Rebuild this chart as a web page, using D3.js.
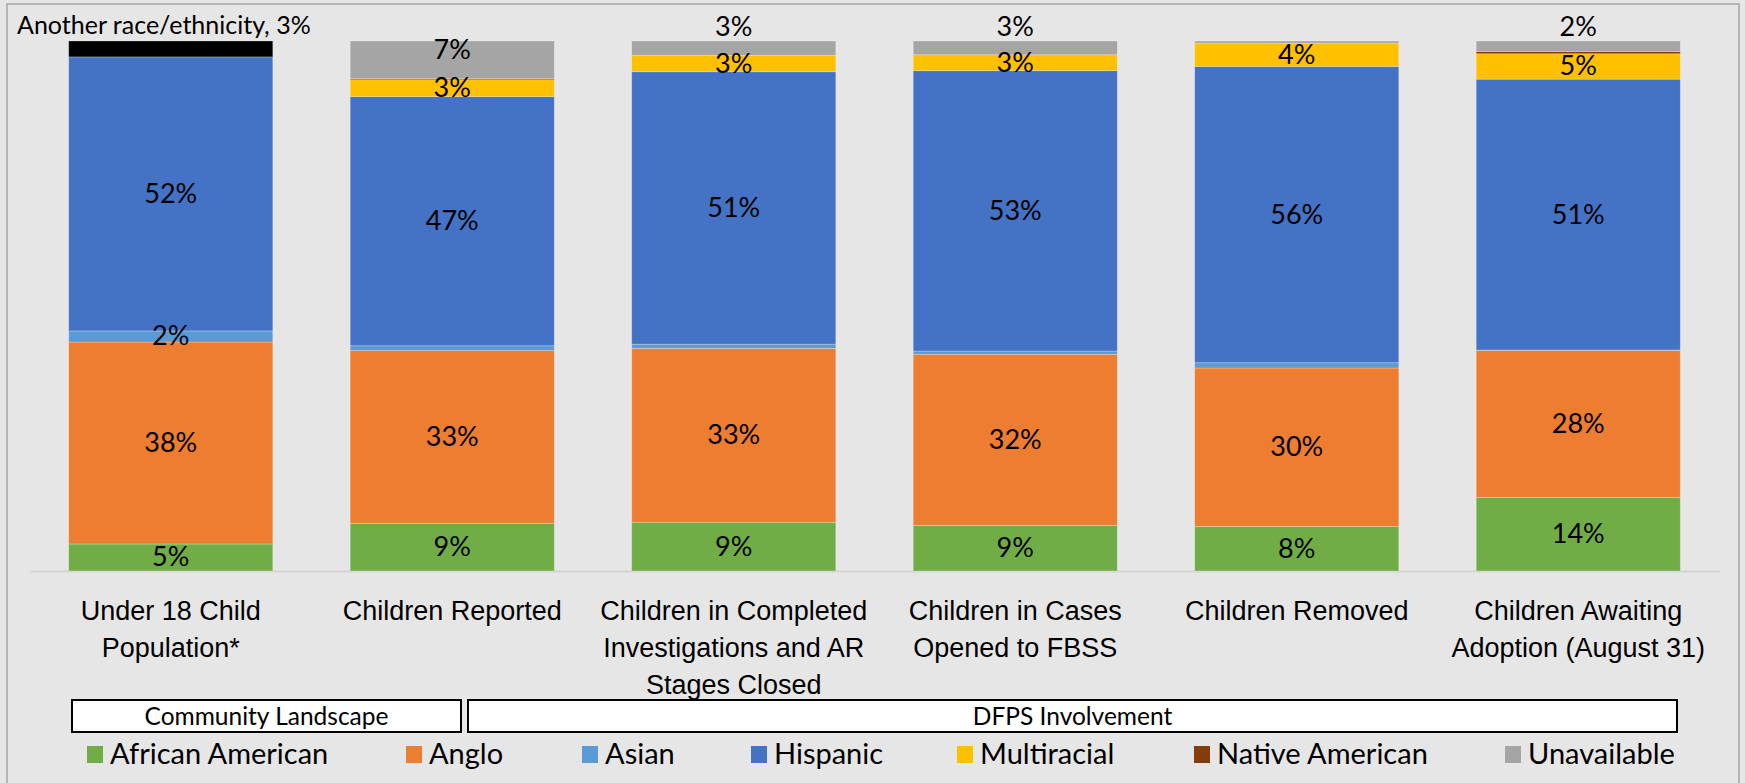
<!DOCTYPE html>
<html>
<head>
<meta charset="utf-8">
<script src="https://cdn.jsdelivr.net/npm/d3@7"></script>
<style>
  body { margin: 0; background: #e7e6e6; }
  svg { display: block; font-family: Lato, "Open Sans", sans-serif; }
  .axis .domain { stroke: #d4d4d4; stroke-width: 2; }
  .axis text { font-size: 27px; fill: #000; }
  .seg-label { font-size: 27px; fill: #000; text-anchor: middle; }
  .legend text { font-size: 29px; fill: #000; }
  .group-box text { font-size: 24.5px; fill: #000; text-anchor: middle; }
</style>
</head>
<body>
<svg width="1745" height="783"></svg>
<script>
// categories and tick labels
var categories = ['Under 18 Child Population*', 'Children Reported',
    'Children in Completed Investigations and AR Stages Closed',
    'Children in Cases Opened to FBSS', 'Children Removed',
    'Children Awaiting Adoption (August 31)'];
var tickLines = [
    ['Under 18 Child', 'Population*'],
    ['Children Reported'],
    ['Children in Completed', 'Investigations and AR', 'Stages Closed'],
    ['Children in Cases', 'Opened to FBSS'],
    ['Children Removed'],
    ['Children Awaiting', 'Adoption (August 31)']
];

// percent of children per race/ethnicity
var africanAmerican = [5.1, 9.0, 9.2, 8.6, 8.4, 13.9];
var anglo           = [38.1, 32.6, 32.8, 32.3, 29.9, 27.7];
var asian           = [2.1, 0.9, 0.8, 0.6, 1.0, 0.1];
var hispanic        = [51.7, 47.0, 51.4, 52.9, 55.9, 51.1];
var multiracial     = [0, 3.2, 3.1, 3.0, 4.4, 4.8];
var nativeAmerican  = [0, 0.2, 0, 0, 0, 0.4];
var unavailable     = [0, 7.1, 2.7, 2.6, 0.4, 2.0];
var anotherRace     = [3.0, 0, 0, 0, 0, 0];

var legendKeys = ['African American', 'Anglo', 'Asian', 'Hispanic',
    'Multiracial', 'Native American', 'Unavailable'];
var groups = ['Community Landscape', 'DFPS Involvement'];

var svg = d3.select('svg');
var width = +svg.attr('width');
var height = +svg.attr('height');

var keys = legendKeys.concat(['Another race/ethnicity']);
var colors = d3.scaleOrdinal()
    .domain(keys)
    .range(['#70ad47', '#ed7d31', '#5b9bd5', '#4472c4', '#ffc000', '#843c0c', '#a5a5a5', '#000000']);

var rows = categories.map(function(c, i) {
    return {
        category: c,
        'African American': africanAmerican[i],
        'Anglo': anglo[i],
        'Asian': asian[i],
        'Hispanic': hispanic[i],
        'Multiracial': multiracial[i],
        'Native American': nativeAmerican[i],
        'Unavailable': unavailable[i],
        'Another race/ethnicity': anotherRace[i]
    };
});

var series = d3.stack().keys(keys)(rows);

// chart frame
svg.append('rect')
    .attr('width', width).attr('height', height)
    .attr('fill', '#e7e6e6');
svg.append('rect')
    .attr('x', 7).attr('y', 4)
    .attr('width', 1732).attr('height', 790)
    .attr('fill', 'none')
    .attr('stroke', '#b5b5b5')
    .attr('stroke-width', 2);

var x = d3.scaleBand()
    .domain(categories)
    .range([30, 1719])
    .paddingInner(0.275)
    .paddingOuter(0.1375);

var y = d3.scaleLinear()
    .domain([0, 100])
    .range([571, 41]);

// baseline axis with wrapped labels
var axisG = svg.append('g')
    .attr('class', 'axis')
    .attr('transform', 'translate(0,' + y(0) + ')')
    .call(d3.axisBottom(x).tickSize(0).tickSizeOuter(0).tickFormat(''));

axisG.selectAll('.tick').each(function(d, i) {
    var t = d3.select(this).append('text')
        .attr('text-anchor', 'middle')
        .attr('y', 49);
    tickLines[i].forEach(function(line, j) {
        t.append('tspan')
            .attr('x', 0)
            .attr('dy', j === 0 ? 0 : 37)
            .text(line);
    });
});

// stacked bars
var layer = svg.append('g').selectAll('g')
    .data(series)
    .enter()
    .append('g')
    .attr('fill', function(d) { return colors(d.key); });

layer.selectAll('rect')
    .data(function(d) { return d; })
    .enter()
    .append('rect')
    .attr('x', function(d) { return x(d.data.category); })
    .attr('width', x.bandwidth())
    .attr('y', function(d) { return y(d[1]); })
    .attr('height', function(d) { return y(d[0]) - y(d[1]); })
    .attr('stroke', 'rgba(255,255,255,0.3)')
    .attr('stroke-width', 0.8);

// data labels
var labels = [];
series.forEach(function(s) {
    if (s.key === 'Another race/ethnicity' || s.key === 'Native American') return;
    s.forEach(function(d) {
        var v = d[1] - d[0];
        if (v < 1.5) return;
        var cy = (y(d[0]) + y(d[1])) / 2 + 9;
        if (s.key === 'Unavailable') {
            // small ones sit above the bar, big ones near the top of their segment
            cy = v < 4 ? y(d[1]) - 5 : y(d[1]) + 18;
        }
        labels.push({ x: x(d.data.category) + x.bandwidth() / 2, y: cy, text: Math.round(v) + '%' });
    });
});

svg.append('g').selectAll('text')
    .data(labels)
    .enter()
    .append('text')
    .attr('class', 'seg-label')
    .attr('x', function(d) { return d.x; })
    .attr('y', function(d) { return d.y; })
    .text(function(d) { return d.text; });

svg.append('text')
    .attr('x', 17)
    .attr('y', 34)
    .style('font-size', '25px')
    .text('Another race/ethnicity, ' + Math.round(anotherRace[0]) + '%');

// group boxes under the axis
var groupSpans = [[72, 461], [468, 1677]];
var boxG = svg.append('g').attr('class', 'group-box')
    .selectAll('g')
    .data(groups)
    .enter()
    .append('g');

boxG.append('rect')
    .attr('x', function(d, i) { return groupSpans[i][0]; })
    .attr('y', 700)
    .attr('width', function(d, i) { return groupSpans[i][1] - groupSpans[i][0]; })
    .attr('height', 32)
    .attr('fill', '#fff')
    .attr('stroke', '#000')
    .attr('stroke-width', 2);

boxG.append('text')
    .attr('x', function(d, i) { return (groupSpans[i][0] + groupSpans[i][1]) / 2; })
    .attr('y', 725)
    .text(function(d) { return d; });

// legend
var legendX = [87, 406, 582, 751, 957, 1194, 1505];
var legend = svg.append('g')
    .attr('class', 'legend')
    .selectAll('g')
    .data(legendKeys)
    .enter()
    .append('g')
    .attr('transform', function(d, i) { return 'translate(' + legendX[i] + ',746)'; });

legend.append('rect')
    .attr('width', 16)
    .attr('height', 17)
    .attr('fill', function(d) { return colors(d); });

legend.append('text')
    .attr('x', 23)
    .attr('y', 18)
    .text(function(d) { return d; });
</script>
</body>
</html>
